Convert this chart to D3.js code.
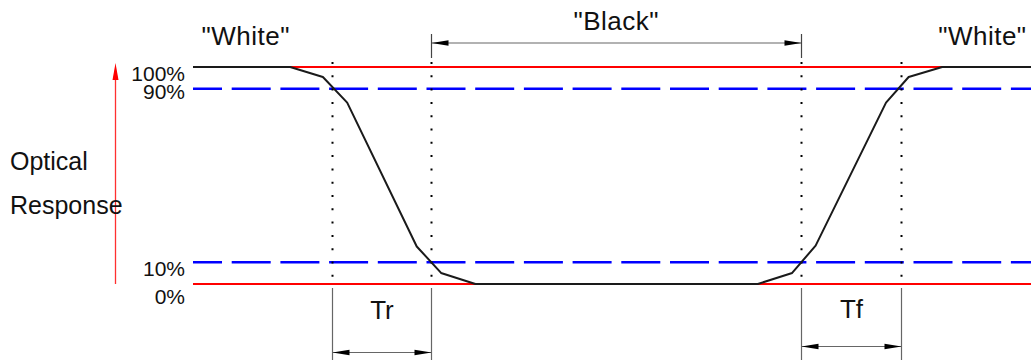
<!DOCTYPE html>
<html>
<head>
<meta charset="utf-8">
<script src="https://cdn.jsdelivr.net/npm/d3@7"></script>
<style>
  body { margin: 0; background: #fff; }
  text { font-family: "Liberation Sans", Arial, Helvetica, sans-serif; fill: #111; }
</style>
</head>
<body>
<svg id="chart" width="1031" height="360"></svg>
<script>
// time in arbitrary units, response in %
const curveTime = [0, 11.6, 15.5, 18.4, 26.7, 29.6, 33.7, 67.4, 71.5, 74.3, 82.7, 85.4, 89.4, 100];
const curveResp = [100, 100, 95.4, 83.6, 17.3, 5.1, 0, 0, 5.1, 17.7, 83.6, 95.4, 100, 100];

const solidLevels = [100, 0];
const dashedLevels = [90, 10];
const levelLabels = ["100%", "90%", "10%", "0%"];
const levelValues = [100, 90, 10, 0];

// marker times: Tr start/end, Tf start/end
const markerTimes = [16.6, 28.4, 72.5, 84.5];
const stateLabels = ['"White"', '"Black"', '"White"'];
const stateTimes = [6.3, 50.5, 94.2];
const spanLabels = ["Tr", "Tf"];

function drawChart() {
  const svg = d3.select("#chart");
  svg.selectAll("*").remove();

  const x = d3.scaleLinear().domain([0, 100]).range([193, 1031]);
  const y = d3.scaleLinear().domain([0, 100]).range([284, 67]);

  // arrowhead helper, dir = 1 points right, -1 left
  function arrowH(g, px, py, dir, color) {
    const len = 17, hw = 2.8;
    g.append("path")
      .attr("d", `M${px},${py} L${px - dir * len},${py - hw} L${px - dir * len},${py + hw} Z`)
      .attr("fill", color);
  }

  // red solid 0 / 100 lines
  svg.selectAll("line.solid")
    .data(solidLevels)
    .enter()
    .append("line")
    .attr("class", "solid")
    .attr("x1", x(0)).attr("x2", x(100))
    .attr("y1", d => y(d)).attr("y2", d => y(d))
    .attr("stroke", "#ff0000")
    .attr("stroke-width", 2);

  // blue dashed 10 / 90 lines
  svg.selectAll("line.dashed")
    .data(dashedLevels)
    .enter()
    .append("line")
    .attr("class", "dashed")
    .attr("x1", x(0)).attr("x2", x(100))
    .attr("y1", d => y(d)).attr("y2", d => y(d))
    .attr("stroke", "#0000ff")
    .attr("stroke-width", 2.6)
    .attr("stroke-dasharray", "39 9.7")
    .attr("stroke-dashoffset", 10);

  // dotted verticals
  svg.selectAll("line.dot")
    .data(markerTimes)
    .enter()
    .append("line")
    .attr("x1", d => Math.round(x(d)) + 0.5).attr("x2", d => Math.round(x(d)) + 0.5)
    .attr("y1", 62).attr("y2", 288)
    .attr("stroke", "#000")
    .attr("stroke-width", 2)
    .attr("stroke-dasharray", "2 11.3");

  // extension lines below
  svg.selectAll("line.ext")
    .data(markerTimes)
    .enter()
    .append("line")
    .attr("x1", d => Math.round(x(d)) + 0.5).attr("x2", d => Math.round(x(d)) + 0.5)
    .attr("y1", 288).attr("y2", 360)
    .attr("stroke", "#666")
    .attr("stroke-width", 1.2);

  // optical response curve
  const line = d3.line()
    .x((d, i) => x(curveTime[i]))
    .y(d => y(d));
  svg.append("path")
    .datum(curveResp)
    .attr("d", line)
    .attr("fill", "none")
    .attr("stroke", "#1a1a1a")
    .attr("stroke-width", 2)
    .attr("stroke-linejoin", "round");

  // "Black" dimension
  const bx1 = Math.round(x(markerTimes[1])) + 0.5, bx2 = Math.round(x(markerTimes[2])) + 0.5;
  const by = 43;
  const top = svg.append("g");
  top.append("line").attr("x1", bx1).attr("x2", bx2).attr("y1", by).attr("y2", by)
    .attr("stroke", "#666").attr("stroke-width", 1.2);
  [bx1, bx2].forEach(bx => {
    top.append("line").attr("x1", bx).attr("x2", bx).attr("y1", 34).attr("y2", 58)
      .attr("stroke", "#444").attr("stroke-width", 1.2);
  });
  arrowH(top, bx1, by, -1, "#000");
  arrowH(top, bx2, by, 1, "#000");

  // Tr / Tf dimensions
  const spanY = [352.5, 346.5];
  spanLabels.forEach((lab, i) => {
    const a = Math.round(x(markerTimes[i * 2])) + 0.5;
    const b = Math.round(x(markerTimes[i * 2 + 1])) + 0.5;
    const g = svg.append("g");
    g.append("line").attr("x1", a).attr("x2", b).attr("y1", spanY[i]).attr("y2", spanY[i])
      .attr("stroke", "#666").attr("stroke-width", 1.2);
    arrowH(g, a, spanY[i], -1, "#000");
    arrowH(g, b, spanY[i], 1, "#000");
    g.append("text")
      .attr("x", (a + b) / 2)
      .attr("y", i === 0 ? 319 : 318)
      .attr("text-anchor", "middle")
      .attr("font-size", 26)
      .text(lab);
  });

  // state labels
  svg.selectAll("text.state")
    .data(stateLabels)
    .enter()
    .append("text")
    .attr("class", "state")
    .attr("x", (d, i) => x(stateTimes[i]))
    .attr("y", (d, i) => i === 1 ? 30 : 44.5)
    .attr("text-anchor", "middle")
    .attr("font-size", 26)
    .attr("letter-spacing", 0.5)
    .text(d => d);

  // level labels
  const labelDy = [14, 10, 14, 20];
  svg.selectAll("text.level")
    .data(levelLabels)
    .enter()
    .append("text")
    .attr("class", "level")
    .attr("x", 185)
    .attr("y", (d, i) => y(levelValues[i]) + labelDy[i])
    .attr("text-anchor", "end")
    .attr("font-size", 21)
    .text(d => d);

  // red y arrow
  svg.append("line")
    .attr("x1", 115.5).attr("x2", 115.5)
    .attr("y1", y(0)).attr("y2", y(100) + 8)
    .attr("stroke", "#ff3030")
    .attr("stroke-width", 1.3);
  svg.append("path")
    .attr("d", `M115.5,${y(100) - 4} L112.5,${y(100) + 13} L118.5,${y(100) + 13} Z`)
    .attr("fill", "#ff0000");

  // axis title
  svg.append("text").attr("x", 10).attr("y", 170).attr("font-size", 25).text("Optical");
  svg.append("text").attr("x", 10).attr("y", 214).attr("font-size", 25).text("Response");
}

drawChart();
</script>
</body>
</html>
